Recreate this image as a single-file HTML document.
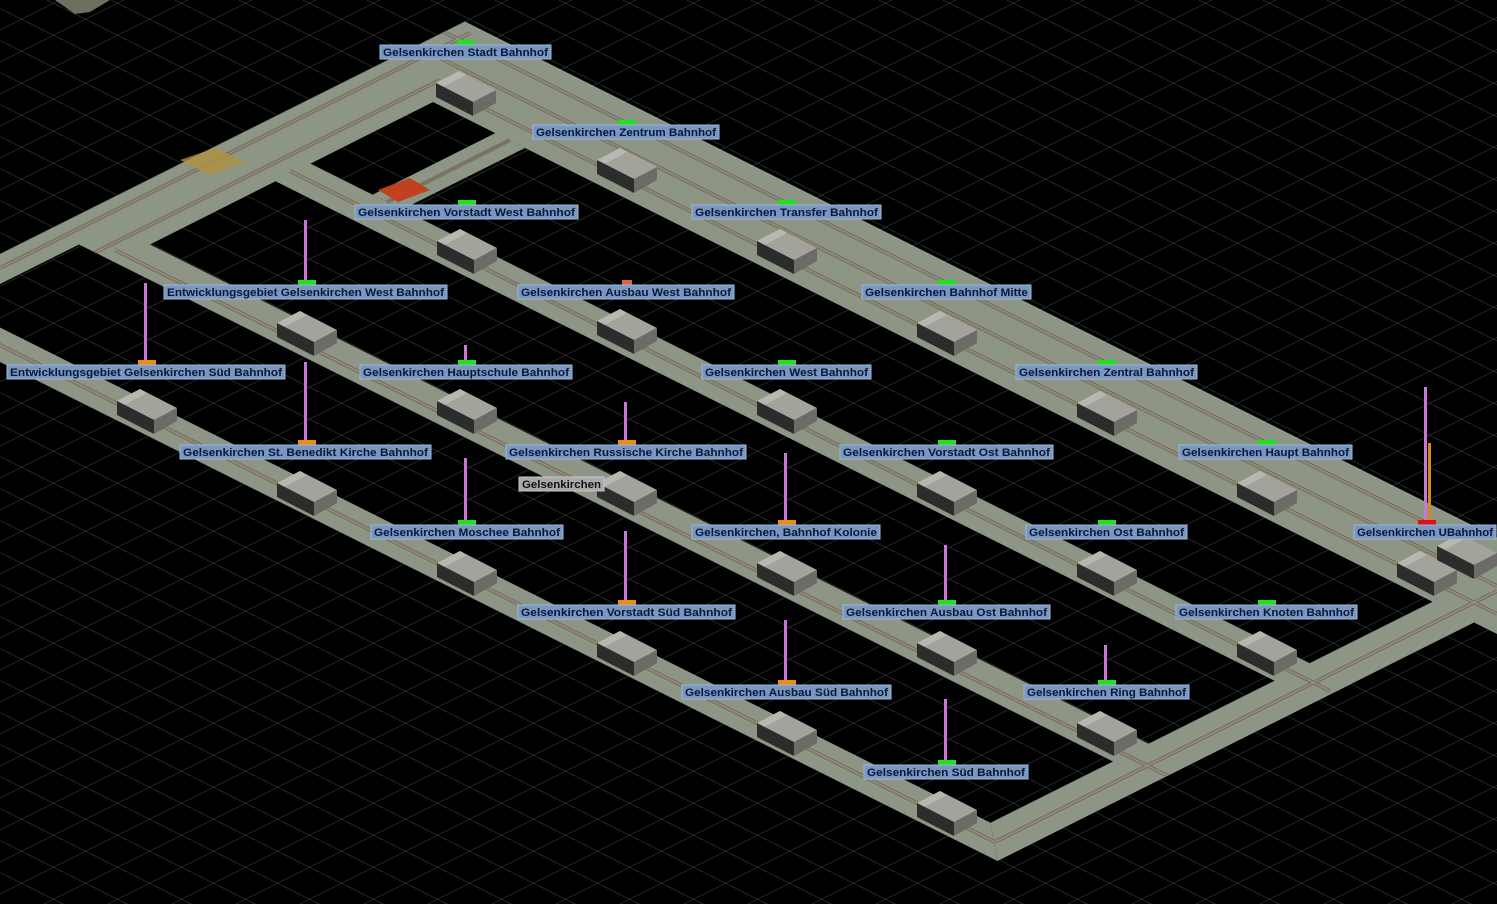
<!DOCTYPE html>
<html><head><meta charset="utf-8"><style>
html,body{margin:0;padding:0;background:#000;}
svg{display:block;}
.lb{fill:#7898c2;stroke:#9db6d6;stroke-width:1}
.lt{font-family:"Liberation Sans",sans-serif;font-size:11px;font-weight:bold;fill:#0c1636;}
.st{fill:#8d9585}
.tr{stroke:#7a7265;stroke-width:4;fill:none}
.tr2{stroke:#a09684;stroke-width:1;fill:none}
.pp{fill:#c47ad2}
</style></head><body>
<svg width="1497" height="904" viewBox="0 0 1497 904" xmlns="http://www.w3.org/2000/svg">
<defs>
<pattern id="g1" patternUnits="userSpaceOnUse" width="64" height="32" patternTransform="translate(0,8.5)">
<line x1="0" y1="0" x2="64" y2="32" stroke="#262626" stroke-width="1"/>
</pattern>
<pattern id="g2" patternUnits="userSpaceOnUse" width="64" height="32" patternTransform="translate(0,-2)">
<line x1="0" y1="32" x2="64" y2="0" stroke="#262626" stroke-width="1"/>
</pattern>
<clipPath id="sc">
<polygon points="0,254 465,21.5 1497,537.5 1497,634 433,102 150,244.5 79,244.5 0,284"/>
<polygon points="310,163.5 1351,684 1316,701.5 273,180"/>
<polygon points="150,244.5 1190,764.5 1154.5,782.25 79,244.5"/>
<polygon points="-10,322.5 990.5,822.75 997.5,861 -10,357"/>
<polygon points="990.5,822.75 1497,569.5 1497,611 997.5,861"/>
<polygon points="495.5,133 525,148 402,209.5 372.5,194.75"/>
</clipPath>
<g id="bld">
<polygon points="-30,-7 -7,-19 30,0 7,12" fill="#a3a39c"/>
<polygon points="-30,-7 -7,-19 0,-15 -23,-3" fill="#b8b8b0"/>
<polygon points="-30,-7 7,12 7,26 -30,7" fill="#2c2c2c"/>
<polygon points="7,12 30,0 30,13 7,26" fill="#6c6c66"/>
</g>
</defs>
<rect width="1497" height="904" fill="#000"/>
<rect width="1497" height="904" fill="url(#g1)"/>
<rect width="1497" height="904" fill="url(#g2)"/>
<polygon points="55,0 110,0 90,12 75,14" fill="#6d705e"/>

<g class="st">
<polygon points="0,254 465,21.5 1497,537.5 1497,634 433,102 150,244.5 79,244.5 0,284"/>
<polygon points="310,163.5 1351,684 1316,701.5 273,180"/>
<polygon points="150,244.5 1190,764.5 1154.5,782.25 79,244.5"/>
<polygon points="-10,322.5 990.5,822.75 997.5,861 -10,357"/>
<polygon points="990.5,822.75 1497,569.5 1497,611 997.5,861"/>
<polygon points="495.5,133 525,148 402,209.5 372.5,194.75"/>
</g>

<g clip-path="url(#sc)">
<g class="tr">
<line x1="0" y1="268" x2="470" y2="33"/>
<line x1="0" y1="300" x2="440" y2="80"/>
<line x1="440" y1="30" x2="1497" y2="558"/>
<line x1="440" y1="58" x2="1497" y2="586"/>
<line x1="440" y1="86" x2="1497" y2="614"/>
<line x1="290" y1="171" x2="1330" y2="691"/>
<line x1="115" y1="250" x2="1170" y2="777"/>
<line x1="-10" y1="340" x2="995" y2="842"/>
<line x1="995" y1="842" x2="1497" y2="591"/>
<line x1="510" y1="140" x2="387" y2="202"/>
</g>
<g class="tr2">
<line x1="0" y1="268" x2="470" y2="33"/>
<line x1="0" y1="300" x2="440" y2="80"/>
<line x1="440" y1="30" x2="1497" y2="558"/>
<line x1="440" y1="58" x2="1497" y2="586"/>
<line x1="440" y1="86" x2="1497" y2="614"/>
<line x1="290" y1="171" x2="1330" y2="691"/>
<line x1="115" y1="250" x2="1170" y2="777"/>
<line x1="-10" y1="340" x2="995" y2="842"/>
<line x1="995" y1="842" x2="1497" y2="591"/>
</g>
</g>
<polygon points="180,160 215,148 245,162 210,175" fill="#b09040" opacity="0.8"/>
<polygon points="378,190 410,178 430,190 398,202" fill="#c04020"/>

<use href="#bld" x="466" y="90"/>
<use href="#bld" x="627" y="167"/>
<use href="#bld" x="787" y="248"/>
<use href="#bld" x="947" y="330"/>
<use href="#bld" x="1107" y="410"/>
<use href="#bld" x="1267" y="490"/>
<use href="#bld" x="1427" y="570"/>
<use href="#bld" x="1467" y="553"/>
<use href="#bld" x="467" y="248"/>
<use href="#bld" x="627" y="328"/>
<use href="#bld" x="787" y="408"/>
<use href="#bld" x="947" y="490"/>
<use href="#bld" x="1107" y="570"/>
<use href="#bld" x="1267" y="650"/>
<use href="#bld" x="307" y="330"/>
<use href="#bld" x="467" y="408"/>
<use href="#bld" x="627" y="490"/>
<use href="#bld" x="787" y="570"/>
<use href="#bld" x="947" y="650"/>
<use href="#bld" x="1107" y="730"/>
<use href="#bld" x="147" y="408"/>
<use href="#bld" x="307" y="490"/>
<use href="#bld" x="467" y="570"/>
<use href="#bld" x="627" y="650"/>
<use href="#bld" x="787" y="730"/>
<use href="#bld" x="947" y="810"/>

<rect class="pp" x="304" y="220" width="3" height="60"/>
<rect class="pp" x="144" y="283" width="3" height="77"/>
<rect class="pp" x="464" y="345" width="3" height="15"/>
<rect class="pp" x="304" y="362" width="3" height="78"/>
<rect class="pp" x="624" y="402" width="3" height="38"/>
<rect class="pp" x="464" y="458" width="3" height="62"/>
<rect class="pp" x="784" y="453" width="3" height="67"/>
<rect class="pp" x="624" y="531" width="3" height="69"/>
<rect class="pp" x="944" y="545" width="3" height="55"/>
<rect class="pp" x="784" y="620" width="3" height="60"/>
<rect class="pp" x="1104" y="645" width="3" height="35"/>
<rect class="pp" x="944" y="699" width="3" height="61"/>
<rect class="pp" x="1424" y="387" width="3" height="133"/>
<rect x="1428" y="443" width="3" height="77" fill="#d08a20"/>

<g>
<rect x="457" y="40" width="18" height="5" fill="#20e020"/>
<rect x="618" y="120" width="18" height="5" fill="#20e020"/>
<rect x="458" y="200" width="18" height="5" fill="#20e020"/>
<rect x="778" y="200" width="18" height="5" fill="#20e020"/>
<rect x="298" y="280" width="18" height="5" fill="#20e020"/>
<rect x="622" y="280" width="10" height="5" fill="#e06040"/>
<rect x="938" y="280" width="18" height="5" fill="#20e020"/>
<rect x="138" y="360" width="18" height="5" fill="#f08a10"/>
<rect x="458" y="360" width="18" height="5" fill="#20e020"/>
<rect x="778" y="360" width="18" height="5" fill="#20e020"/>
<rect x="1098" y="360" width="18" height="5" fill="#20e020"/>
<rect x="298" y="440" width="18" height="5" fill="#f08a10"/>
<rect x="618" y="440" width="18" height="5" fill="#f08a10"/>
<rect x="938" y="440" width="18" height="5" fill="#20e020"/>
<rect x="1258" y="440" width="18" height="5" fill="#20e020"/>
<rect x="458" y="520" width="18" height="5" fill="#20e020"/>
<rect x="778" y="520" width="18" height="5" fill="#f08a10"/>
<rect x="1098" y="520" width="18" height="5" fill="#20e020"/>
<rect x="1418" y="520" width="18" height="5" fill="#e01010"/>
<rect x="618" y="600" width="18" height="5" fill="#f08a10"/>
<rect x="938" y="600" width="18" height="5" fill="#20e020"/>
<rect x="1258" y="600" width="18" height="5" fill="#20e020"/>
<rect x="778" y="680" width="18" height="5" fill="#f08a10"/>
<rect x="1098" y="680" width="18" height="5" fill="#20e020"/>
<rect x="938" y="760" width="18" height="5" fill="#20e020"/>
</g>

<g>
<rect class="lb" x="380" y="45" width="171" height="14"/><text class="lt" x="383" y="56" textLength="165" lengthAdjust="spacingAndGlyphs">Gelsenkirchen Stadt Bahnhof</text>
<rect class="lb" x="533" y="125" width="186" height="14"/><text class="lt" x="536" y="136" textLength="180" lengthAdjust="spacingAndGlyphs">Gelsenkirchen Zentrum Bahnhof</text>
<rect class="lb" x="355" y="205" width="223" height="14"/><text class="lt" x="358" y="216" textLength="217" lengthAdjust="spacingAndGlyphs">Gelsenkirchen Vorstadt West Bahnhof</text>
<rect class="lb" x="692" y="205" width="189" height="14"/><text class="lt" x="695" y="216" textLength="183" lengthAdjust="spacingAndGlyphs">Gelsenkirchen Transfer Bahnhof</text>
<rect class="lb" x="164" y="285" width="283" height="14"/><text class="lt" x="167" y="296" textLength="277" lengthAdjust="spacingAndGlyphs">Entwicklungsgebiet Gelsenkirchen West Bahnhof</text>
<rect class="lb" x="518" y="285" width="216" height="14"/><text class="lt" x="521" y="296" textLength="210" lengthAdjust="spacingAndGlyphs">Gelsenkirchen Ausbau West Bahnhof</text>
<rect class="lb" x="862" y="285" width="169" height="14"/><text class="lt" x="865" y="296" textLength="163" lengthAdjust="spacingAndGlyphs">Gelsenkirchen Bahnhof Mitte</text>
<rect class="lb" x="7" y="365" width="278" height="14"/><text class="lt" x="10" y="376" textLength="272" lengthAdjust="spacingAndGlyphs">Entwicklungsgebiet Gelsenkirchen Süd Bahnhof</text>
<rect class="lb" x="360" y="365" width="212" height="14"/><text class="lt" x="363" y="376" textLength="206" lengthAdjust="spacingAndGlyphs">Gelsenkirchen Hauptschule Bahnhof</text>
<rect class="lb" x="702" y="365" width="169" height="14"/><text class="lt" x="705" y="376" textLength="163" lengthAdjust="spacingAndGlyphs">Gelsenkirchen West Bahnhof</text>
<rect class="lb" x="1016" y="365" width="181" height="14"/><text class="lt" x="1019" y="376" textLength="175" lengthAdjust="spacingAndGlyphs">Gelsenkirchen Zentral Bahnhof</text>
<rect class="lb" x="180" y="445" width="251" height="14"/><text class="lt" x="183" y="456" textLength="245" lengthAdjust="spacingAndGlyphs">Gelsenkirchen St. Benedikt Kirche Bahnhof</text>
<rect class="lb" x="506" y="445" width="240" height="14"/><text class="lt" x="509" y="456" textLength="234" lengthAdjust="spacingAndGlyphs">Gelsenkirchen Russische Kirche Bahnhof</text>
<rect class="lb" x="840" y="445" width="213" height="14"/><text class="lt" x="843" y="456" textLength="207" lengthAdjust="spacingAndGlyphs">Gelsenkirchen Vorstadt Ost Bahnhof</text>
<rect class="lb" x="1179" y="445" width="173" height="14"/><text class="lt" x="1182" y="456" textLength="167" lengthAdjust="spacingAndGlyphs">Gelsenkirchen Haupt Bahnhof</text>
<rect x="519" y="477" width="85" height="14" fill="#a9a9a9" stroke="#c8c8c8"/><text class="lt" x="522" y="488" textLength="79" lengthAdjust="spacingAndGlyphs" style="fill:#101010">Gelsenkirchen</text>
<rect class="lb" x="371" y="525" width="192" height="14"/><text class="lt" x="374" y="536" textLength="186" lengthAdjust="spacingAndGlyphs">Gelsenkirchen Moschee Bahnhof</text>
<rect class="lb" x="692" y="525" width="188" height="14"/><text class="lt" x="695" y="536" textLength="182" lengthAdjust="spacingAndGlyphs">Gelsenkirchen, Bahnhof Kolonie</text>
<rect class="lb" x="1026" y="525" width="161" height="14"/><text class="lt" x="1029" y="536" textLength="155" lengthAdjust="spacingAndGlyphs">Gelsenkirchen Ost Bahnhof</text>
<rect class="lb" x="1354" y="525" width="142" height="14"/><text class="lt" x="1357" y="536" textLength="136" lengthAdjust="spacingAndGlyphs">Gelsenkirchen UBahnhof</text>
<rect class="lb" x="518" y="605" width="217" height="14"/><text class="lt" x="521" y="616" textLength="211" lengthAdjust="spacingAndGlyphs">Gelsenkirchen Vorstadt Süd Bahnhof</text>
<rect class="lb" x="843" y="605" width="207" height="14"/><text class="lt" x="846" y="616" textLength="201" lengthAdjust="spacingAndGlyphs">Gelsenkirchen Ausbau Ost Bahnhof</text>
<rect class="lb" x="1176" y="605" width="181" height="14"/><text class="lt" x="1179" y="616" textLength="175" lengthAdjust="spacingAndGlyphs">Gelsenkirchen Knoten Bahnhof</text>
<rect class="lb" x="682" y="685" width="209" height="14"/><text class="lt" x="685" y="696" textLength="203" lengthAdjust="spacingAndGlyphs">Gelsenkirchen Ausbau Süd Bahnhof</text>
<rect class="lb" x="1024" y="685" width="165" height="14"/><text class="lt" x="1027" y="696" textLength="159" lengthAdjust="spacingAndGlyphs">Gelsenkirchen Ring Bahnhof</text>
<rect class="lb" x="864" y="765" width="164" height="14"/><text class="lt" x="867" y="776" textLength="158" lengthAdjust="spacingAndGlyphs">Gelsenkirchen Süd Bahnhof</text>
</g>
</svg>
</body></html>
